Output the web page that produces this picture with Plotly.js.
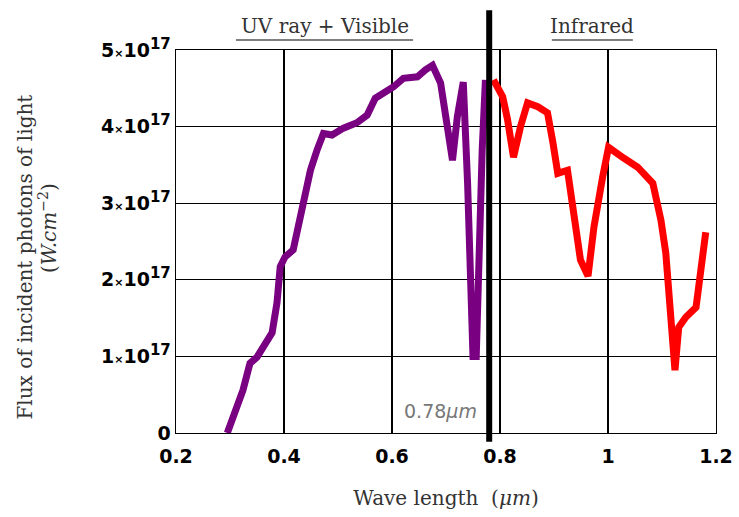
<!DOCTYPE html>
<html>
<head>
<meta charset="utf-8">
<script src="https://cdn.plot.ly/plotly-3.0.1.min.js"></script>
<style>html,body{margin:0;padding:0;background:#fff;}#chart{width:739px;height:517px;}</style>
</head>
<body>
<div id="chart"></div>
<script>
// UV + Visible series (wavelength in µm, flux)
const uvX = [0.295,0.324,0.337,0.350,0.378,0.387,0.393,0.402,0.417,0.434,0.449,0.461,0.473,0.489,0.510,0.535,0.554,0.569,0.585,0.603,0.621,0.647,0.662,0.675,0.690,0.703,0.712,0.721,0.732,0.740,0.745,0.750,0.756,0.760,0.767,0.773];
const uvY = [0,0.56e17,0.91e17,0.99e17,1.31e17,1.70e17,2.17e17,2.30e17,2.39e17,2.95e17,3.43e17,3.69e17,3.91e17,3.89e17,3.98e17,4.05e17,4.15e17,4.37e17,4.44e17,4.52e17,4.63e17,4.65e17,4.74e17,4.80e17,4.57e17,4.05e17,3.56e17,4.13e17,4.58e17,3.26e17,2.17e17,1.0e17,1.0e17,2.17e17,3.69e17,4.61e17];
// Infrared series
const irX = [0.788,0.805,0.814,0.825,0.838,0.851,0.870,0.888,0.898,0.907,0.925,0.937,0.949,0.963,0.974,0.990,1.001,1.029,1.055,1.083,1.098,1.107,1.113,1.120,1.124,1.131,1.144,1.163,1.172,1.181];
const irY = [4.61e17,4.39e17,4.09e17,3.60e17,4.00e17,4.31e17,4.26e17,4.18e17,3.79e17,3.39e17,3.43e17,2.91e17,2.26e17,2.05e17,2.69e17,3.34e17,3.73e17,3.59e17,3.47e17,3.26e17,2.78e17,2.35e17,1.70e17,1.04e17,0.82e17,1.38e17,1.51e17,1.64e17,2.13e17,2.62e17];
// Axis ticks
const xTicks = [0.2,0.4,0.6,0.8,1.0,1.2];
const xTickText = ["0.2","0.4","0.6","0.8","1","1.2"];
const yTicks = [0,1e17,2e17,3e17,4e17,5e17];
const yMant = ["0","1","2","3","4","5"];
const boundary = 0.78;

const yTickText = yMant.map((m,i)=> i===0 ? "0" : m + "<span style='font-size:11px'>×</span>10<sup><span style='font-size:15px'>17</span></sup>");

const traces = [
  {x: uvX, y: uvY, mode: 'lines', line: {color: 'rgb(122,0,130)', width: 7}, hoverinfo: 'skip'},
  {x: irX, y: irY, mode: 'lines', line: {color: 'rgb(255,0,0)', width: 7}, hoverinfo: 'skip'}
];

const serif = "DejaVu Serif, serif";
const sans = "DejaVu Sans, sans-serif";
const txt = '#333';
const layout = {
  width: 739, height: 517,
  margin: {l: 176, r: 23, t: 50, b: 84},
  paper_bgcolor: '#fff', plot_bgcolor: '#fff',
  showlegend: false,
  xaxis: {
    range: [0.2, 1.2], tickvals: xTicks, ticktext: xTickText,
    showgrid: true, gridcolor: '#000', gridwidth: 1.4,
    showline: true, linecolor: '#000', linewidth: 1.4, mirror: true,
    zeroline: false, ticks: '', ticklabelstandoff: 6,
    tickfont: {family: sans, size: 19, color: '#000', weight: 'bold'},
    title: {text: "Wave length  (<i>μm</i>)", font: {family: serif, size: 20, color: txt}, standoff: 24}
  },
  yaxis: {
    range: [0, 5e17], tickvals: yTicks, ticktext: yTickText,
    showgrid: true, gridcolor: '#000', gridwidth: 1.4,
    showline: true, linecolor: '#000', linewidth: 1.4, mirror: true,
    zeroline: false, ticks: '',
    tickfont: {family: sans, size: 19, color: '#000', weight: 'bold'}
  },
  shapes: [
    {type: 'line', xref: 'x', yref: 'paper', x0: boundary, x1: boundary, y0: -0.023, y1: 1.104, line: {color: '#000', width: 6}, layer: 'above'},
    {type: 'line', xref: 'paper', yref: 'paper', x0: 0.111, x1: 0.439, y0: 1.026, y1: 1.026, line: {color: '#555', width: 1.5}},
    {type: 'line', xref: 'paper', yref: 'paper', x0: 0.696, x1: 0.846, y0: 1.026, y1: 1.026, line: {color: '#555', width: 1.5}}
  ],
  annotations: [
    {text: "UV ray + Visible", xref: 'paper', yref: 'paper', x: 0.275, y: 1.062, xanchor: 'center', yanchor: 'middle', showarrow: false, font: {family: serif, size: 20, color: txt}},
    {text: "Infrared", xref: 'paper', yref: 'paper', x: 0.770, y: 1.062, xanchor: 'center', yanchor: 'middle', showarrow: false, font: {family: serif, size: 20, color: txt}},
    {text: "0.78<i>μm</i>", xref: 'x', yref: 'paper', x: 0.69, y: 0.057, xanchor: 'center', yanchor: 'middle', showarrow: false, font: {family: sans, size: 19, color: '#777'}},
    {text: "Flux of incident photons of light", xref: 'paper', yref: 'paper', x: -0.280, y: 0.46, xanchor: 'center', yanchor: 'middle', textangle: -90, showarrow: false, font: {family: serif, size: 20, color: txt}},
    {text: "(<i>W.cm</i><sup>−2</sup>)", xref: 'paper', yref: 'paper', x: -0.237, y: 0.535, xanchor: 'center', yanchor: 'middle', textangle: -90, showarrow: false, font: {family: serif, size: 20, color: txt}}
  ]
};

Plotly.newPlot('chart', traces, layout, {displayModeBar: false, staticPlot: true});
</script>
</body>
</html>
